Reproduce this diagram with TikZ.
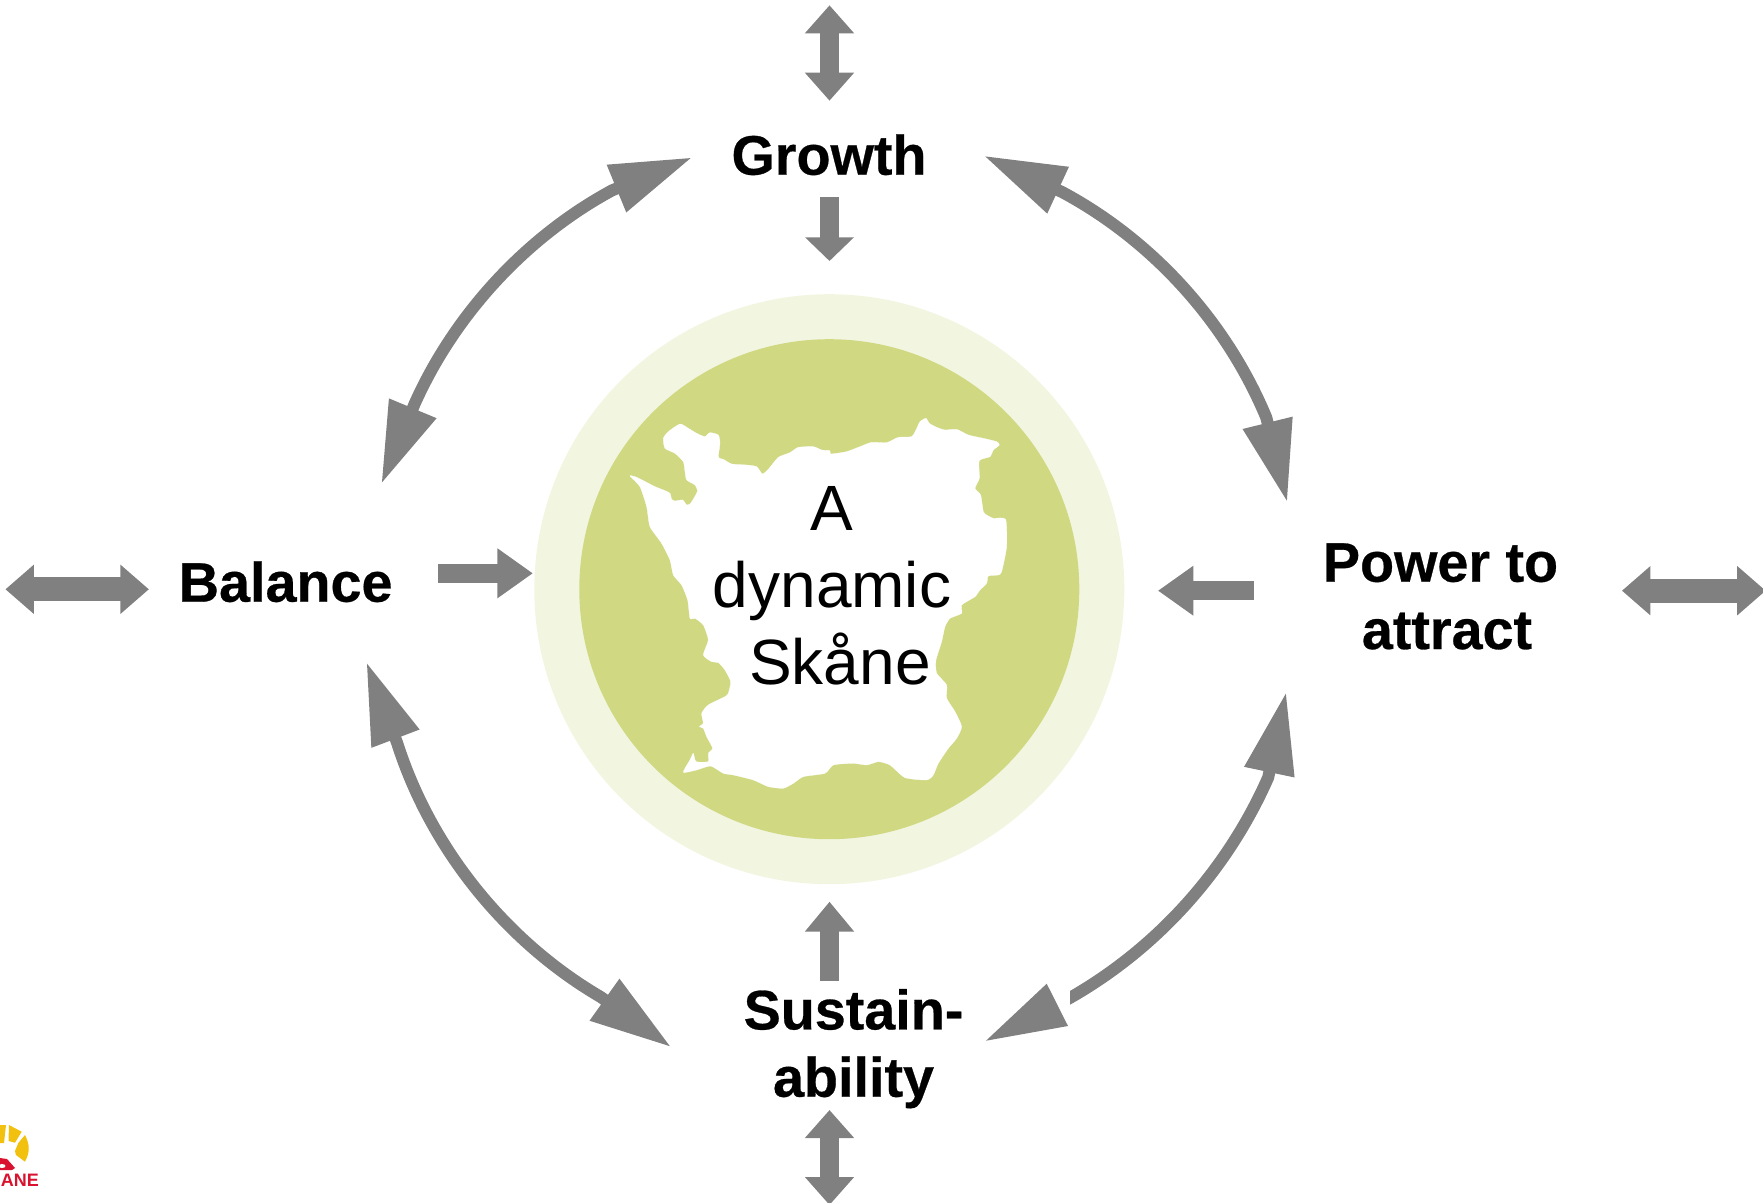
\documentclass[tikz,border=0pt]{standalone}
\usepackage{fontspec}
\setmainfont{Liberation Sans}
\newfontfamily\heavyfont[UprightFont=* Bold,FakeBold=0.5]{Liberation Sans}
\usetikzlibrary{arrows.meta}
\definecolor{arrowgrey}{HTML}{808080}
\definecolor{ringpale}{HTML}{F2F6E1}
\definecolor{ringgreen}{HTML}{D0D882}
\definecolor{logoyellow}{HTML}{F2C10F}
\definecolor{logored}{HTML}{D9122F}
\tikzset{
  HC/.tip={Triangle[length=82pt,width=48pt,sep=0pt]},
  HV/.tip={Triangle[length=28pt,width=47.5pt,sep=0pt]},
  HD/.tip={Triangle[length=23.7pt,width=47.5pt,sep=0pt]},
  HU/.tip={Triangle[length=30pt,width=47.5pt,sep=0pt]},
  HH/.tip={Triangle[length=28.5pt,width=47.5pt,sep=0pt]},
  HS/.tip={Triangle[length=35.5pt,width=47.5pt,sep=0pt]},
  curvedshaft/.style={draw=arrowgrey,fill=none,line width=12pt,line cap=butt},
  thinshaft/.style={draw=arrowgrey,line width=18.5pt,line cap=butt},
  wideshaft/.style={draw=arrowgrey,line width=24pt,line cap=butt},
  topic/.style={font=\fontsize{55.7}{67.3}\heavyfont\selectfont,text=black,inner sep=0pt,anchor=base,align=center},
  hub/.style={font=\fontsize{64}{76.7}\selectfont,text=black,inner sep=0pt,anchor=base,align=center}
}
\begin{document}
\begin{tikzpicture}[x=1pt,y=-1pt]
\useasboundingbox (0,0) rectangle (1763,1202);
\clip (0,0) rectangle (1763,1202);
% rings
\fill[ringpale] (829.3,589.2) circle (295pt);
\fill[ringgreen] (829.3,589.2) circle (250pt);
% Skane map
\begin{scope}[shift={(640,400)},x=0.3333pt,y=-0.3333pt]
\fill[white,draw=white,line width=.3pt,line join=round] plot[smooth cycle,tension=.35] coordinates {
(70,115) (85,95) (120,72) (145,85) (170,100) (195,110) (210,98) (235,105) (240,130) (235,172) (250,178) (275,192) (320,195) (350,200) (367,222) (385,208) (415,172) (450,158) (475,142) (520,140) (545,150) (570,152) (572,162) (620,155) (660,140) (695,127) (740,128) (775,112) (815,110) (828,90) (840,65) (858,55) (868,70) (890,82) (915,90) (950,88) (985,105) (1030,115) (1070,125) (1078,135) (1060,150) (1050,170) (1018,182) (1018,235) (1005,265) (1022,285) (1030,335) (1040,345) (1060,355) (1097,358) (1100,440) (1085,515) (1075,525) (1045,528) (1040,550) (1020,570) (1005,590) (965,615) (965,640) (930,655) (915,680) (905,725) (888,780) (890,820) (920,855) (920,895) (945,935) (965,980) (950,1015) (925,1045) (895,1090) (880,1125) (860,1140) (795,1133) (750,1095) (715,1085) (680,1095) (640,1090) (580,1095) (555,1120) (490,1130) (460,1150) (430,1165) (385,1160) (340,1140) (280,1125) (250,1120) (212,1098) (170,1110) (130,1117) (150,1080) (160,1060) (168,1085) (205,1085) (205,1060) (218,1045) (200,1010) (190,985) (178,980) (190,970) (185,940) (205,915) (255,890) (265,880) (272,845) (255,810) (235,788) (215,785) (190,765) (205,720) (190,675) (165,655) (150,655) (143,600) (125,555) (100,525) (90,480) (65,430) (30,380) (20,320) (0,260) (-30,228) (-15,230) (10,242) (45,260) (75,272) (90,280) (95,298) (105,303) (128,300) (140,315) (152,310) (172,275) (165,255) (140,240) (135,215) (130,185) (105,160) (75,145)};
\end{scope}
% labels
\node[hub] (dyn) at (832,684) {A\\dynamic\\\kern16pt Skåne};
\node[topic] (growth) at (829,174.7) {Growth};
\node[topic] (balance) at (285.7,601.7) {Balance};
\node[topic] (power) at (1447,649) {Power to\kern13pt\\attract};
\node[topic] (sust) at (853.5,1096.7) {Sustain-\\ability};
% named ends of the straight arrows
\coordinate (topA) at (829.5,5.3);
\coordinate (topB) at (829.5,100.7);
\coordinate (grA) at (829.5,197.3);
\coordinate (grB) at (829.5,261);
\coordinate (suA) at (829.5,981);
\coordinate (suB) at (829.5,901.7);
\coordinate (botA) at (829.5,1110);
\coordinate (botB) at (829.5,1205);
\coordinate (leftA) at (5.4,589.3);
\coordinate (leftB) at (148.9,589.3);
\coordinate (baA) at (437.5,573.3);
\coordinate (baB) at (532.9,573.3);
\coordinate (poA) at (1253.6,590.7);
\coordinate (poB) at (1157.9,590.7);
\coordinate (riA) at (1621.9,590.7);
\coordinate (riB) at (1765.7,590.7);
\draw[thinshaft,{HV}-{HV}] (topA) -- (topB);
\draw[thinshaft,-{HD}] (grA) -- (grB);
\draw[thinshaft,-{HU}] (suA) -- (suB);
\draw[thinshaft,{HV}-{HV}] (botA) -- (botB);
\draw[wideshaft,{HH}-{HH}] (leftA) -- (leftB);
\draw[thinshaft,-{HS}] (baA) -- (baB);
\draw[thinshaft,-{HS}] (poA) -- (poB);
\draw[wideshaft,{HH}-{HH}] (riA) -- (riB);
% curved arrows
\coordinate (trT) at (983.7,155.7);
\coordinate (trA) at (1062.4,192.2);
\coordinate (trB) at (1266.3,417.6);
\coordinate (trE) at (1287.3,502.4);
\draw[curvedshaft,{HC}-{HC}] (trT) -- (trA) .. controls (1153.4,241.1) and (1226.7,322.6) .. (trB) -- (trE);
\coordinate (tlT) at (692.3,157.4);
\coordinate (tlA) at (612,190.4);
\coordinate (tlB) at (414.6,403.9);
\coordinate (tlE) at (381.3,484);
\draw[curvedshaft,{HC}-{HC}] (tlT) -- (tlA) .. controls (525.9,237.1) and (454.6,314.4) .. (tlB) -- (tlE);
\coordinate (blT) at (366.4,662);
\coordinate (blA) at (397.3,743.4);
\coordinate (blB) at (600.6,996.9);
\coordinate (blE) at (671.3,1047.2);
\draw[curvedshaft,{HC}-{HC}] (blT) -- (blA) .. controls (430.7,848.1) and (505.4,941.2) .. (blB) -- (blE);
\coordinate (brS) at (1057.3,1004.8);
\coordinate (brB) at (1268.2,777.4);
\coordinate (brE) at (1286.2,691.9);
\begin{scope}
\clip (1070,600) rectangle (1763,1100);
\draw[curvedshaft,-{HC}] (brS) .. controls (1152.9,954.2) and (1226.6,872) .. (brB) -- (brE);
\end{scope}
\coordinate (brT) at (986,1040.7);
\coordinate (brC) at (1046.7,983.7);
\coordinate (brD) at (1068,1026);
\fill[arrowgrey] (brT) -- (brC) -- (brD) -- cycle;
% logo fragment
\fill[logoyellow] (0,1125) -- (6,1125) -- (4,1143) -- (0,1143) -- cycle;
\fill[logoyellow] (9,1125) -- (21.7,1131.7) -- (15,1142.7) -- (8.5,1141) -- cycle;
\fill[logoyellow] (25,1135) .. controls (30,1145) and (30,1152) .. (25,1161.7) -- (16,1155) -- (15,1151) -- (18.3,1143) -- cycle;
\fill[logored] (0,1158) -- (7,1159) -- (15,1168) -- (12,1170) -- (0,1170) -- cycle;
\fill[white] (2,1166) ellipse (3.5pt and 2pt);
\node[font=\fontsize{18}{18}\selectfont\bfseries,text=logored,inner sep=0pt,anchor=base east] (logotext) at (39,1186.7) {ANE};
\end{tikzpicture}
\end{document}
